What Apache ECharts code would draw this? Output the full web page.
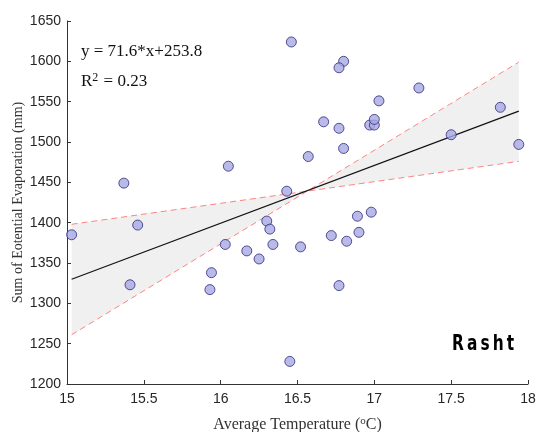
<!DOCTYPE html>
<html>
<head>
<meta charset="utf-8">
<title>Rasht</title>
<script src="https://cdn.jsdelivr.net/npm/echarts@6/dist/echarts.min.js"></script>
<style>
  html, body { margin: 0; padding: 0; background: #fff; }
  #main { width: 536px; height: 432px; }
</style>
</head>
<body>
<div id="main"></div>
<script>
// observed points: temperature (°C) and potential evaporation (mm)
var temps = [15.03, 15.37, 15.46, 15.41, 16.05, 15.93, 15.94, 16.03, 16.17, 16.25,
             16.30, 16.32, 16.34, 16.52, 16.72, 16.82, 16.89, 16.90, 16.98, 16.77,
             16.45, 16.46, 16.80, 16.77, 17.29, 17.03, 16.67, 16.77, 16.97, 17.00,
             17.00, 16.80, 16.57, 17.82, 17.50, 17.94, 16.43];
var evap  = [1385, 1449, 1397, 1323, 1470, 1317, 1338, 1373, 1365, 1355,
             1402, 1392, 1373, 1370, 1384, 1377, 1408, 1388, 1413, 1322,
             1228, 1624, 1600, 1592, 1567, 1551, 1525, 1517, 1521, 1521,
             1528, 1492, 1482, 1543, 1509, 1497, 1439];

// fit line and confidence bounds at the ends of the data range
var fitX = [15.03, 17.94];
var fitY = [1329.9, 1538.3];
var boundSteep = [1261, 1599];
var boundFlat = [1398, 1476];

var xTicks = [15, 15.5, 16, 16.5, 17, 17.5, 18];
var yTicks = [1200, 1250, 1300, 1350, 1400, 1450, 1500, 1550, 1600, 1650];

var points = temps.map(function (t, i) { return [t, evap[i]]; });
var pair = function (ys) { return fitX.map(function (x, i) { return [x, ys[i]]; }); };

var myChart = echarts.init(document.getElementById('main'));
var option = {
    animation: false,
    grid: { left: 67, right: 8, top: 21, bottom: 48, outerBoundsMode: 'none', containLabel: false },
    xAxis: {
        type: 'value', min: 15, max: 18, interval: 0.5,
        name: 'Average Temperature ({s|o}C)',
        nameLocation: 'middle', nameGap: 32,
        nameTextStyle: {
            fontFamily: 'Liberation Serif', fontSize: 16, color: '#333',
            rich: { s: { fontFamily: 'Liberation Serif', fontSize: 11, color: '#333', verticalAlign: 'top', padding: [0, 0, 7, 0] } }
        },
        axisLine: { lineStyle: { color: '#333' } },
        axisTick: { inside: true, length: 4, lineStyle: { color: '#333' } },
        axisLabel: {
            color: '#262626', fontFamily: 'Liberation Sans', fontSize: 14, margin: 8,
            formatter: function (v) { return xTicks.indexOf(v) >= 0 ? String(v) : ''; }
        },
        splitLine: { show: false }
    },
    yAxis: {
        type: 'value', min: 1200, max: 1650, interval: 50,
        name: 'Sum of Eotential Evaporation (mm)',
        nameLocation: 'middle', nameGap: 42, nameMoveOverlap: false,
        nameTextStyle: { fontFamily: 'Liberation Serif', fontSize: 14, color: '#333' },
        axisLine: { show: true, lineStyle: { color: '#333' } },
        axisTick: { show: true, inside: true, length: 4, lineStyle: { color: '#333' } },
        axisLabel: {
            color: '#262626', fontFamily: 'Liberation Sans', fontSize: 14, margin: 6,
            formatter: function (v) { return yTicks.indexOf(v) >= 0 ? String(v) : ''; }
        },
        splitLine: { show: false }
    },
    series: [
        {
            // shaded bow-tie between the two bounds
            type: 'custom',
            silent: true,
            z: 1,
            data: [0],
            renderItem: function (params, api) {
                var a0 = api.coord([fitX[0], boundFlat[0]]);
                var a1 = api.coord([fitX[1], boundFlat[1]]);
                var b1 = api.coord([fitX[1], boundSteep[1]]);
                var b0 = api.coord([fitX[0], boundSteep[0]]);
                return {
                    type: 'polygon',
                    shape: { points: [a0, a1, b1, b0] },
                    style: { fill: '#f0f0f0', stroke: null }
                };
            }
        },
        {
            type: 'line', data: pair(boundSteep), symbol: 'none', z: 2, silent: true,
            lineStyle: { color: '#ff6666', width: 1, type: [6, 4], opacity: 0.8 }
        },
        {
            type: 'line', data: pair(boundFlat), symbol: 'none', z: 2, silent: true,
            lineStyle: { color: '#ff6666', width: 1, type: [6, 4], opacity: 0.8 }
        },
        {
            type: 'line', data: pair(fitY), symbol: 'none', z: 3, silent: true,
            lineStyle: { color: '#111', width: 1.2 }
        },
        {
            type: 'scatter', data: points, symbol: 'circle', symbolSize: 10, z: 4,
            itemStyle: { color: '#a9a9e2', borderColor: '#2c2a7e', borderWidth: 1 }
        }
    ],
    graphic: [
        {
            type: 'text', left: 81, top: 43,
            style: { text: 'y = 71.6*x+253.8', font: '17px "Liberation Serif"', fill: '#111' }
        },
        {
            type: 'text', left: 81, top: 72,
            style: {
                text: 'R{s|2} = 0.23', font: '17px "Liberation Serif"', fill: '#111',
                rich: { s: { font: '12px "Liberation Serif"', verticalAlign: 'top', padding: [0, 1, 8, 0] } }
            }
        },
        {
            type: 'text', x: 452, y: 333, scaleX: 0.7,
            style: { text: 'R\u2009a\u2009s\u2009h\u2009t', font: 'bold 22px "DejaVu Sans"', fill: '#000' }
        }
    ]
};
myChart.setOption(option);
</script>
</body>
</html>
